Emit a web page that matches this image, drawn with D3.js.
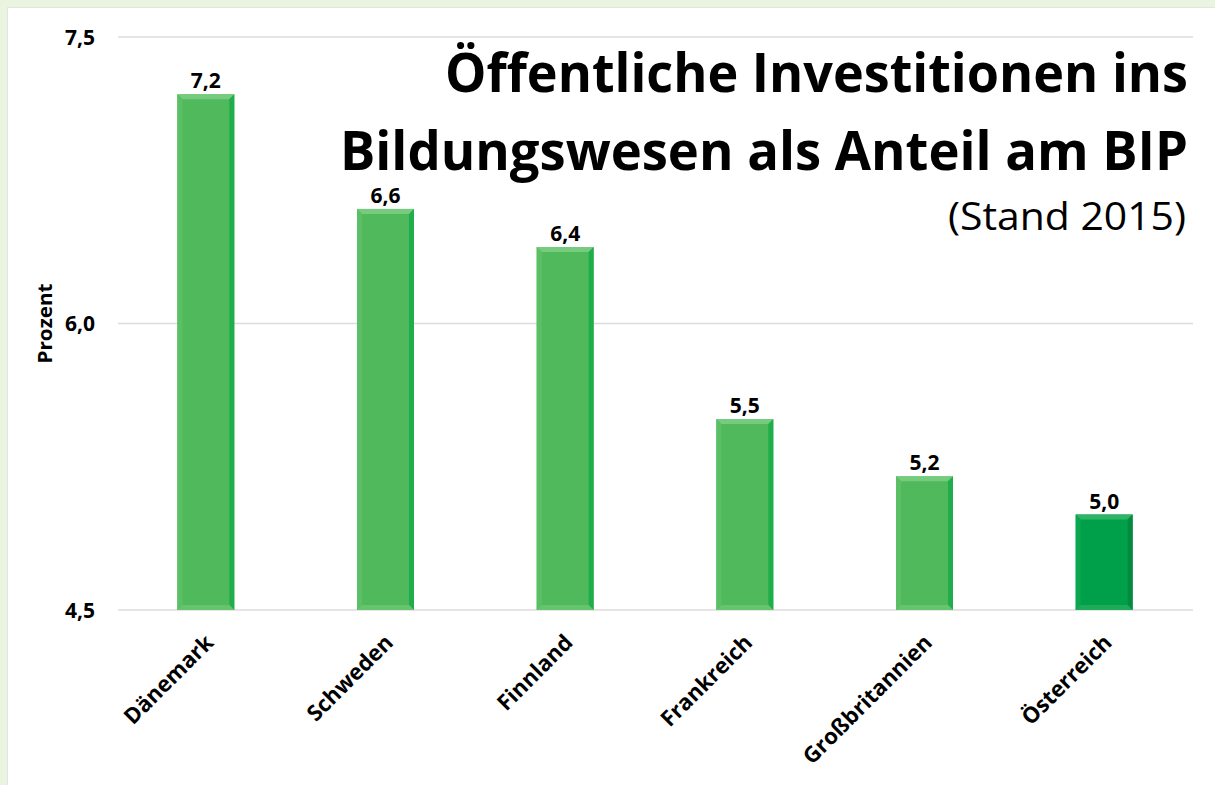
<!DOCTYPE html>
<html>
<head>
<meta charset="utf-8">
<script src="https://cdn.jsdelivr.net/npm/d3@7"></script>
<style>
  body { margin: 0; background: #ebf3e1; }
  svg { display: block; font-family: "Open Sans", "Noto Sans", sans-serif; }
</style>
</head>
<body>
<svg id="chart"></svg>
<script>
  // values
  const countries = ["Dänemark", "Schweden", "Finnland", "Frankreich", "Großbritannien", "Österreich"];
  const shares = [7.2, 6.6, 6.4, 5.5, 5.2, 5.0];
  const highlight = ["Österreich"];
  const yTicks = [4.5, 6.0, 7.5];

  const width = 1215, height = 785;
  const svg = d3.select("#chart").attr("width", width).attr("height", height);

  // white panel on the green page
  svg.append("rect").attr("x", 7).attr("y", 7).attr("width", width).attr("height", height)
    .attr("fill", "#e3e6df");
  svg.append("rect").attr("x", 8).attr("y", 8).attr("width", width).attr("height", height)
    .attr("fill", "#fff");

  const x = d3.scaleBand().domain(countries).range([116, 1194]);
  const y = d3.scaleLinear().domain([4.5, 7.5]).range([610, 37]);
  const barW = x.bandwidth() * 0.317;
  const fmt = (v) => d3.format(".1f")(v).replace(".", ",");

  // gridlines + tick labels
  svg.append("g").selectAll("line").data(yTicks).join("line")
    .attr("x1", 118).attr("x2", 1193)
    .attr("y1", (d) => y(d)).attr("y2", (d) => y(d))
    .attr("stroke", "#dcdcdc").attr("stroke-width", 1.5);

  svg.append("g").selectAll("text").data(yTicks).join("text")
    .attr("x", 95).attr("y", (d) => y(d)).attr("dy", "0.36em")
    .attr("text-anchor", "end").attr("font-weight", 700).attr("font-size", 21)
    .text(fmt);

  svg.append("text")
    .attr("transform", `translate(52, ${y(6)}) rotate(-90)`)
    .attr("text-anchor", "middle").attr("font-weight", 700).attr("font-size", 20)
    .attr("textLength", 80).attr("lengthAdjust", "spacingAndGlyphs")
    .text("Prozent");

  // bars with a small bevel
  const bev = 5;
  const bars = svg.append("g").selectAll("g").data(countries).join("g")
    .attr("transform", (d) => `translate(${x(d) + (x.bandwidth() - barW) / 2}, 0)`);

  bars.each(function (d, i) {
    const g = d3.select(this);
    const top = y(shares[i]), bot = y(4.5), dark = highlight.includes(d);
    const base = dark ? "#00a04b" : "#50b95c";
    const light = dark ? "#2fb464" : "#76cb7e";
    const shade = dark ? "#058a3f" : "#1fae4b";
    g.append("rect").attr("x", 0).attr("y", top).attr("width", barW).attr("height", bot - top)
      .attr("fill", base);
    g.append("polygon").attr("fill", light)
      .attr("points", [[0, top], [barW, top], [barW - bev, top + bev], [bev, top + bev]].join(" "));
    g.append("polygon").attr("fill", dark ? "#0aa650" : "#5cbf66")
      .attr("points", [[0, top], [bev, top + bev], [bev, bot - bev], [0, bot]].join(" "));
    g.append("polygon").attr("fill", shade)
      .attr("points", [[barW, top], [barW, bot], [barW - bev, bot - bev], [barW - bev, top + bev]].join(" "));
    g.append("polygon").attr("fill", dark ? "#1eab58" : "#66c46f")
      .attr("points", [[0, bot], [bev, bot - bev], [barW - bev, bot - bev], [barW, bot]].join(" "));
    g.append("text").attr("x", barW / 2).attr("y", top - 6)
      .attr("text-anchor", "middle").attr("font-weight", 700).attr("font-size", 21)
      .text(fmt(shares[i]));
  });

  // rotated category labels
  svg.append("g").selectAll("text").data(countries).join("text")
    .attr("transform", (d) => `translate(${x(d) + x.bandwidth() / 2 + 9}, ${y(4.5) + 34}) rotate(-45)`)
    .attr("text-anchor", "end").attr("font-weight", 700).attr("font-size", 22)
    .text((d) => d);

  // title block, right aligned
  svg.append("text").attr("x", 1188).attr("y", 92)
    .attr("text-anchor", "end").attr("font-weight", 700).attr("font-size", 53)
    .attr("textLength", 743).attr("lengthAdjust", "spacingAndGlyphs")
    .text("Öffentliche Investitionen ins");
  svg.append("text").attr("x", 1188).attr("y", 170)
    .attr("text-anchor", "end").attr("font-weight", 700).attr("font-size", 53)
    .attr("textLength", 848).attr("lengthAdjust", "spacingAndGlyphs")
    .text("Bildungswesen als Anteil am BIP");
  svg.append("text").attr("x", 1186).attr("y", 230)
    .attr("text-anchor", "end").attr("font-size", 38)
    .attr("textLength", 238).attr("lengthAdjust", "spacingAndGlyphs")
    .text("(Stand 2015)");
</script>
</body>
</html>
